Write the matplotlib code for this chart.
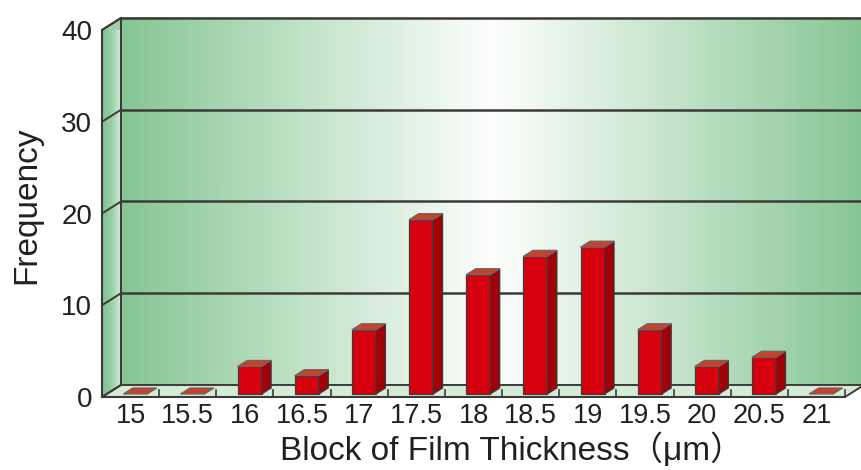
import numpy as np
import matplotlib
matplotlib.use("Agg")
import matplotlib.pyplot as plt
from matplotlib.patches import Polygon, Rectangle
from matplotlib.colors import LinearSegmentedColormap

# data
blocks = ["15", "15.5", "16", "16.5", "17", "17.5", "18", "18.5", "19", "19.5", "20", "20.5", "21"]
freq = [0, 0, 3, 2, 7, 19, 13, 15, 16, 7, 3, 4, 0]
y_ticks = [0, 10, 20, 30, 40]

plt.rcParams["font.family"] = ["Liberation Sans", "Noto Sans CJK JP", "DejaVu Sans"]
TXT = "#231f20"
EDGE = "#3e3a39"

fig = plt.figure(figsize=(8.61, 4.70), dpi=100)
ax = fig.add_axes([102 / 861, 73 / 470, 743 / 861, 367 / 470])
n = len(blocks)
ax.set_xlim(-0.5, n - 0.5)
ax.set_ylim(0, 40)
ax.set_facecolor("none")

# depth offset of the back wall, in data units
DX, DY = 0.332, 1.31
x0, x1 = -0.5, n - 0.5

# back wall gradient: green at the edges, white in the middle
wall_cmap = LinearSegmentedColormap.from_list(
    "wall", ["#86c594", "#c2e3c9", "#fdfefd", "#c2e3c9", "#86c594"])
grad = np.linspace(0, 1, 512)[None, :]
im = ax.imshow(grad, cmap=wall_cmap, aspect="auto", zorder=0,
               extent=[x0 + DX, x1 + DX, DY, 40 + DY], interpolation="bilinear")
im.set_clip_on(False)

# left side wall
side = Polygon([(x0, 0), (x0 + DX, DY), (x0 + DX, 40 + DY), (x0, 40)],
               closed=True, facecolor="none", edgecolor=EDGE, lw=1.4,
               clip_on=False, zorder=3)
ax.add_patch(side)
side_fill = Polygon([(x0, 0), (x0 + DX, DY), (x0 + DX, 40 + DY), (x0, 40)],
                    closed=True, facecolor="#9ed1a9", edgecolor="none",
                    clip_on=False, zorder=1)
ax.add_patch(side_fill)
side_cmap = LinearSegmentedColormap.from_list("side", ["#7ec08f", "#98cfa4", "#d3ecd8"])
im2 = ax.imshow(grad, cmap=side_cmap, aspect="auto", zorder=1.5,
                extent=[x0, x0 + DX, 0, 40 + DY], interpolation="bilinear")
im2.set_clip_path(side_fill)

# floor
floor = Polygon([(x0, 0), (x1, 0), (x1 + DX, DY), (x0 + DX, DY)], closed=True,
                facecolor="#d4ebd7", edgecolor=EDGE, lw=1.4, clip_on=False, zorder=2)
ax.add_patch(floor)

# grid lines on back and side walls
for yv in y_ticks[1:]:
    ax.plot([x0 + DX, x1 + DX + 1], [yv + DY, yv + DY], color=EDGE, lw=1.8,
            clip_on=False, zorder=2, solid_capstyle="butt")
    ax.plot([x0, x0 + DX], [yv, yv + DY], color=EDGE, lw=1.4, clip_on=False, zorder=3)
ax.plot([x0 + DX, x0 + DX], [DY, 40 + DY], color=EDGE, lw=1.4, clip_on=False, zorder=3)

# boundary ticks on the floor edge
for b in np.arange(0.5, n, 1.0):
    ax.plot([b, b], [0, 0.75], color=EDGE, lw=1.2, clip_on=False, zorder=3)

# 3d bars
W = 0.42
BDX, BDY = 0.5 * DX, 0.5 * DY
for i, v in enumerate(freq):
    bx = i - W / 2 + 0.25 * DX
    by = 0.25 * DY
    top = [(bx, by + v), (bx + W, by + v), (bx + W + BDX, by + v + BDY), (bx + BDX, by + v + BDY)]
    if v > 0:
        ax.add_patch(Rectangle((bx, by), W, v, facecolor="#d7000f", edgecolor=EDGE,
                               lw=0.9, clip_on=False, zorder=5))
        ax.add_patch(Polygon([(bx + W, by), (bx + W + BDX, by + BDY),
                              (bx + W + BDX, by + v + BDY), (bx + W, by + v)],
                             closed=True, facecolor="#a10008", edgecolor=EDGE,
                             lw=0.9, clip_on=False, zorder=5))
    ax.add_patch(Polygon(top, closed=True, facecolor="#c8412b", edgecolor="#6b6563",
                         lw=0.9, clip_on=False, zorder=6))

# axes, ticks and labels
for s in ["top", "right"]:
    ax.spines[s].set_visible(False)
for s in ["left", "bottom"]:
    ax.spines[s].set_color(EDGE)
    ax.spines[s].set_linewidth(1.5)
    ax.spines[s].set_zorder(7)
ax.set_xticks(range(n), blocks)
ax.set_yticks(y_ticks, [str(t) for t in y_ticks])
ax.tick_params(axis="x", length=0, pad=4, labelsize=19.5, labelcolor=TXT)
ax.tick_params(axis="y", length=0, pad=7, labelsize=20, labelcolor=TXT)

ax.set_xlabel("Block of Film Thickness（μm）", fontsize=24, color=TXT)
ax.xaxis.set_label_coords(0.551, -0.144)
ax.xaxis.label.set_va("center")
ax.set_ylabel("Frequency", fontsize=24, color=TXT)
ax.yaxis.set_label_coords(-0.101, 0.522)
ax.yaxis.label.set_va("center")

fig.savefig("out.png", dpi=100)
